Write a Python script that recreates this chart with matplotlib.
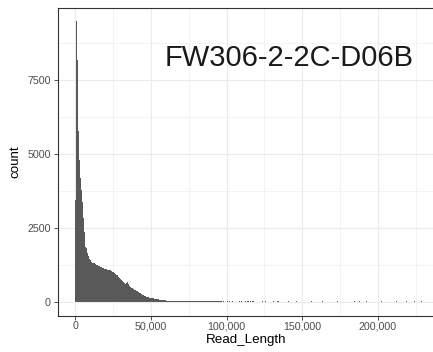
import numpy as np
import matplotlib
matplotlib.use("Agg")
import matplotlib.pyplot as plt
from matplotlib.ticker import FuncFormatter, MultipleLocator

# --- dados ---
sample_name = "FW306-2-2C-D06B"
bin_width = 660  # pb por barra

# contagens por barra, a partir de 0 pb
counts_head = [
    3430, 9470, 8180, 5780, 4790, 4170, 3770, 3370, 2810, 2350,
    1840, 1800, 1630, 1530, 1450, 1390, 1335, 1310, 1300, 1290,
    1270, 1250, 1230, 1210, 1200, 1175, 1160, 1140, 1130, 1110,
    1100, 1090, 1080, 1070, 1060, 1050, 1030, 1010, 990, 960,
    940, 910, 880, 840, 810, 770, 740, 700, 670, 640,
    600, 640, 650, 600, 530, 490, 470, 450, 430, 400,
    380, 360, 350, 320, 300, 280, 260, 230, 205, 190,
    175, 165, 155, 146, 135, 125, 115, 108, 102, 92,
    85, 78, 72, 68, 62, 60, 58, 57, 55, 45,
    35, 28, 24, 30, 34, 34, 34, 34, 20, 15,
    12, 11, 10, 10, 9, 9, 8, 8, 8, 7,
    7, 7, 6, 6, 6, 6, 5, 5, 5, 5,
    5, 5, 4, 4, 4, 4, 4, 4, 3, 3,
    3, 3, 3, 3, 3, 3, 3, 3, 2, 2,
    2, 2, 2, 2, 2, 2,
]

# cauda esparsa: índice da barra e contagem
tail_bins = [146, 148, 152, 154, 157, 164, 166, 170, 172, 173, 175, 177, 178,
             187, 190, 198, 202, 203, 213, 222, 237, 248, 263, 280, 285, 292,
             307, 322, 332, 340, 347]
tail_counts = [4, 3, 4, 3, 4, 4, 3, 4, 4, 3, 4, 3, 4,
               2, 2, 2, 2, 2, 2, 1, 1, 1, 5, 1, 1, 1,
               1, 1, 1, 1, 5]

x_ticks = [0, 50000, 100000, 150000, 200000]
y_ticks = [0, 2500, 5000, 7500]

# --- montar as barras ---
n_bins = max(tail_bins) + 1
counts = np.zeros(n_bins)
counts[:len(counts_head)] = counts_head
counts[tail_bins] = tail_counts
edges = np.arange(n_bins + 1) * bin_width - bin_width / 2

W, H = 433, 352
fig = plt.figure(figsize=(W / 100, H / 100), dpi=100)
ax = fig.add_axes([58.3 / W, (H - 315.5) / H, (W - 58.3) / W + 0.003, (315.5 - 7.5) / H])

cinza_grade = "#EBEBEB"
ax.set_facecolor("white")
ax.grid(which="major", color=cinza_grade, linewidth=0.8)
ax.grid(which="minor", color=cinza_grade, linewidth=0.4)
ax.set_axisbelow(True)

# histograma como um único polígono (sem frestas entre barras)
ax.stairs(counts, edges, fill=True, color="#595959", linewidth=0)

ax.set_xlim(-11300, 237300)
ax.set_ylim(-473, 9940)
ax.set_xticks(x_ticks)
ax.set_yticks(y_ticks)
ax.xaxis.set_minor_locator(MultipleLocator(25000))
ax.yaxis.set_minor_locator(MultipleLocator(1250))
ax.xaxis.set_major_formatter(FuncFormatter(lambda v, p: f"{int(v):,}"))

ax.tick_params(which="minor", length=0)
ax.tick_params(which="major", length=2.9, width=0.6, color="#333333",
               labelsize=7.7, labelcolor="#4D4D4D")
ax.tick_params(axis="x", pad=1.2)
ax.tick_params(axis="y", pad=2.4)
for lado in ax.spines.values():
    lado.set_color("#333333")
    lado.set_linewidth(0.8)

fonte = "Liberation Sans"
for rot in ax.get_xticklabels() + ax.get_yticklabels():
    rot.set_fontfamily(fonte)
ax.set_xlabel("Read_Length", fontsize=9.6, family=fonte, labelpad=2)
ax.set_ylabel("count", fontsize=9.6, family=fonte, labelpad=4.5)

ax.text(141500, 8240, sample_name, fontsize=21, family=fonte,
        ha="center", va="center", color="#1A1A1A")

fig.savefig("out.png", dpi=100)
